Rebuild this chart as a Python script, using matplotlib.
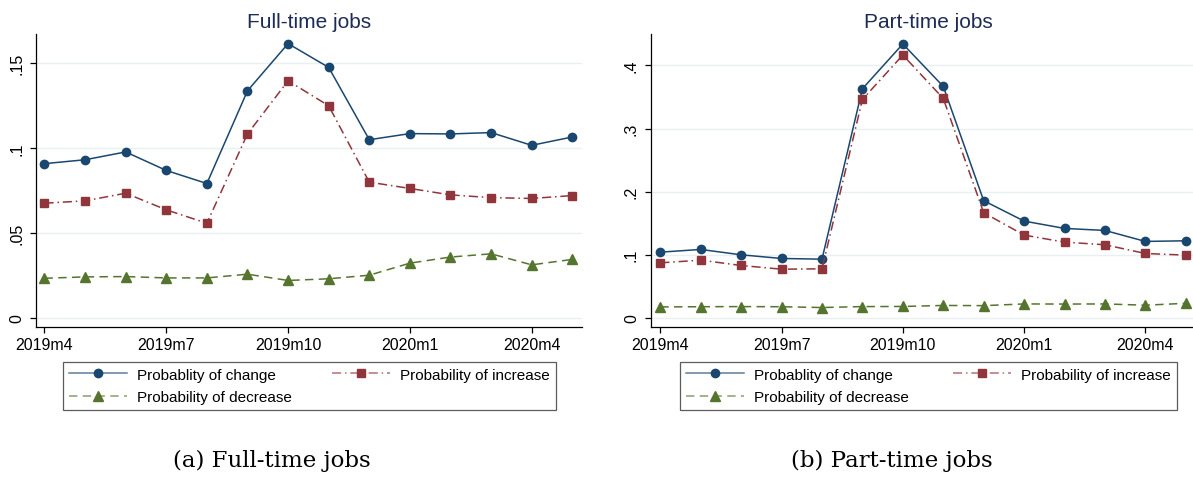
import numpy as np
import matplotlib
matplotlib.use("Agg")
import matplotlib.pyplot as plt
from matplotlib.colors import to_rgb

months = ["2019m4", "2019m5", "2019m6", "2019m7", "2019m8", "2019m9", "2019m10",
          "2019m11", "2019m12", "2020m1", "2020m2", "2020m3", "2020m4", "2020m5"]
tick_months = ["2019m4", "2019m7", "2019m10", "2020m1", "2020m4"]

ft_change = [0.0909, 0.0932, 0.0978, 0.0869, 0.0792, 0.1338, 0.1616,
             0.1476, 0.1050, 0.1086, 0.1084, 0.1092, 0.1017, 0.1066]
ft_increase = [0.0676, 0.0690, 0.0735, 0.0637, 0.0558, 0.1084, 0.1397,
               0.1250, 0.0800, 0.0763, 0.0725, 0.0709, 0.0704, 0.0721]
ft_decrease = [0.0234, 0.0242, 0.0244, 0.0236, 0.0236, 0.0258, 0.0221,
               0.0231, 0.0252, 0.0323, 0.0359, 0.0378, 0.0313, 0.0345]

pt_change = [0.1042, 0.1085, 0.1000, 0.0942, 0.0931, 0.3630, 0.4339,
             0.3667, 0.1857, 0.1534, 0.1418, 0.1386, 0.1212, 0.1222]
pt_increase = [0.0873, 0.0915, 0.0831, 0.0772, 0.0778, 0.3460, 0.4164,
               0.3476, 0.1667, 0.1312, 0.1201, 0.1159, 0.1021, 0.0995]
pt_decrease = [0.0175, 0.0178, 0.0180, 0.0178, 0.0165, 0.0180, 0.0182,
               0.0198, 0.0195, 0.0222, 0.0220, 0.0222, 0.0202, 0.0232]

ft_yticks = [0, 0.05, 0.10, 0.15]
ft_yticklabels = ["0", ".05", ".1", ".15"]
pt_yticks = [0, 0.1, 0.2, 0.3, 0.4]
pt_yticklabels = ["0", ".1", ".2", ".3", ".4"]

labels = ["Probablity of change", "Probability of increase", "Probability of decrease"]
titles = ["Full-time jobs", "Part-time jobs"]
captions = ["(a) Full-time jobs", "(b) Part-time jobs"]

NAVY = "#1a476f"
MAROON = "#90353b"
GREEN = "#55752f"
GRID = "#e8f0f2"
TITLE = "#1e2b55"

def lighten(c, f=0.3):
    r, g, b = to_rgb(c)
    return (r + (1 - r) * f, g + (1 - g) * f, b + (1 - b) * f)

plt.rcParams["font.family"] = ["Liberation Sans", "DejaVu Sans"]

W, H = 1193, 481
fig = plt.figure(figsize=(W / 100, H / 100), dpi=100)

def fx(px):
    return px / W

def fy(py):
    return 1 - py / H

panels = [
    dict(left=36, right=582, ylim=(-0.00548, 0.16726), xlim=(-0.209, 13.24),
         data=(ft_change, ft_increase, ft_decrease), yt=ft_yticks, ytl=ft_yticklabels,
         title=titles[0], titlex=309, cap=captions[0], capx=272, leg=(63.3, 556)),
    dict(left=650.7, right=1195.5, ylim=(-0.0148, 0.4497), xlim=(-0.2375, 13.24),
         data=(pt_change, pt_increase, pt_decrease), yt=pt_yticks, ytl=pt_yticklabels,
         title=titles[1], titlex=928.5, cap=captions[1], capx=892, leg=(680, 1177)),
]

x = np.arange(len(months))
tick_pos = [months.index(m) for m in tick_months]

for p in panels:
    top, bottom = 35, 328.3
    ax = fig.add_axes([fx(p["left"]), fy(bottom), fx(p["right"] - p["left"]), (bottom - top) / H])
    ax.set_xlim(*p["xlim"])
    ax.set_ylim(*p["ylim"])
    for yv in p["yt"]:
        ax.axhline(yv, color=GRID, lw=1.0, zorder=0)
    ch, inc, dec = p["data"]
    l1, = ax.plot(x, ch, color=NAVY, lw=1.1, marker="o", ms=6, mfc=NAVY, mec=NAVY,
                  label=labels[0], zorder=3)
    l2, = ax.plot(x, inc, color=MAROON, lw=1.1, marker="s", ms=5.5, mfc=MAROON, mec=MAROON,
                  dashes=(6, 2.5, 1, 2.5), label=labels[1], zorder=3)
    l3, = ax.plot(x, dec, color=GREEN, lw=1.1, marker="^", ms=6.5, mfc=GREEN, mec=GREEN,
                  dashes=(5.5, 3.5), label=labels[2], zorder=3)
    ax.spines["top"].set_visible(False)
    ax.spines["right"].set_visible(False)
    for s in ("left", "bottom"):
        ax.spines[s].set_linewidth(0.9)
        ax.spines[s].set_color("black")
    ax.set_xticks(tick_pos)
    ax.set_xticklabels(tick_months, fontsize=11.5)
    ax.set_yticks(p["yt"])
    ax.set_yticklabels(p["ytl"], fontsize=11.5, rotation=90, va="center")
    ax.tick_params(axis="x", length=4, width=0.9, pad=3)
    ax.tick_params(axis="y", length=4.5, width=0.9, pad=4)

    fig.text(fx(p["titlex"]), fy(28), p["title"], ha="center", va="baseline",
             fontsize=15, color=TITLE)

    l0, r0 = p["leg"]
    hs = [l1, l3, l2]
    ls = [labels[0], labels[2], labels[1]]
    leg = fig.legend(handles=hs, labels=ls, ncol=2,
                     loc="upper left", mode="expand", borderaxespad=0,
                     bbox_to_anchor=(fx(l0), fy(411.7), fx(r0 - l0), (411.7 - 362.7) / H),
                     fontsize=11, frameon=True, fancybox=False, borderpad=0.4,
                     labelspacing=0.55, handlelength=3.8, handletextpad=0.65,
                     columnspacing=2.5)
    leg.get_frame().set_edgecolor("#333333")
    leg.get_frame().set_linewidth(0.9)
    for h, src in zip(leg.legend_handles, hs):
        c = src.get_color()
        h.set_color(lighten(c, 0.3))
        h.set_markerfacecolor(c)
        h.set_markeredgecolor(c)

    fig.text(fx(p["capx"]), fy(467), p["cap"], ha="center", va="baseline",
             fontsize=16.5, family="DejaVu Serif", color="black")

fig.savefig("out.png", dpi=100)
